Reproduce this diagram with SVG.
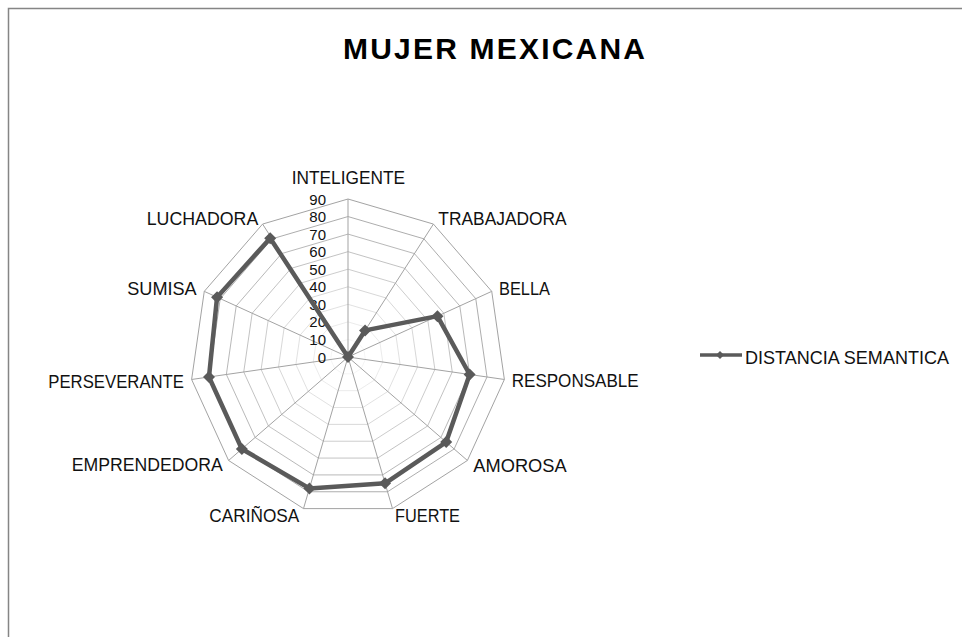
<svg xmlns="http://www.w3.org/2000/svg" xmlns:xlink="http://www.w3.org/1999/xlink" width="962" height="637" viewBox="0 0 962 637">
<style>
.grid{fill:none;stroke:#a3a3a3;stroke-width:1;vector-effect:non-scaling-stroke}
.spoke{stroke:#a3a3a3;stroke-width:1}
.lbl{font-family:"Liberation Sans",Arial,sans-serif;font-size:18px;fill:#111}
.num{font-family:"Liberation Sans",Arial,sans-serif;font-size:15px;fill:#111;text-anchor:end}
.title{font-family:"Liberation Sans",Arial,sans-serif;font-size:30px;font-weight:bold;fill:#000}
.series{fill:none;stroke:#5a5a5a;stroke-width:4.5;stroke-linejoin:round}
.mk{fill:#5a5a5a}
</style>
<defs>
<polygon id="ring" points="0,-158 85.41,-132.93 143.72,-65.63 156.39,22.48 119.40,103.47 44.51,151.60 -44.51,151.60 -119.40,103.47 -156.39,22.48 -143.72,-65.63 -85.41,-132.93"/>
<path id="dia" d="M0,-6 L6,0 L0,6 L-6,0 Z"/>
<path id="dias" d="M0,-4 L4,0 L0,4 L-4,0 Z"/>
</defs>
<rect x="8.5" y="8.5" width="970" height="650" fill="#fff" stroke="#858585" stroke-width="1.5"/>
<text class="title" x="343" y="58.5" textLength="302" lengthAdjust="spacing">MUJER MEXICANA</text>
<g id="grid" transform="translate(348 357)">
<use xlink:href="#ring" class="grid" transform="scale(0.1111)"/>
<use xlink:href="#ring" class="grid" transform="scale(0.2222)"/>
<use xlink:href="#ring" class="grid" transform="scale(0.3333)"/>
<use xlink:href="#ring" class="grid" transform="scale(0.4444)"/>
<use xlink:href="#ring" class="grid" transform="scale(0.5556)"/>
<use xlink:href="#ring" class="grid" transform="scale(0.6667)"/>
<use xlink:href="#ring" class="grid" transform="scale(0.7778)"/>
<use xlink:href="#ring" class="grid" transform="scale(0.8889)"/>
<use xlink:href="#ring" class="grid"/>
<g class="spoke">
<line x1="0" y1="0" x2="0" y2="-158"/>
<line x1="0" y1="0" x2="85.41" y2="-132.93"/>
<line x1="0" y1="0" x2="143.72" y2="-65.63"/>
<line x1="0" y1="0" x2="156.39" y2="22.48"/>
<line x1="0" y1="0" x2="119.40" y2="103.47"/>
<line x1="0" y1="0" x2="44.51" y2="151.60"/>
<line x1="0" y1="0" x2="-44.51" y2="151.60"/>
<line x1="0" y1="0" x2="-119.40" y2="103.47"/>
<line x1="0" y1="0" x2="-156.39" y2="22.48"/>
<line x1="0" y1="0" x2="-143.72" y2="-65.63"/>
<line x1="0" y1="0" x2="-85.41" y2="-132.93"/>
</g>
</g>
<g id="axis-values">
<text class="num" x="326" y="362.5">0</text>
<text class="num" x="326" y="344.9">10</text>
<text class="num" x="326" y="327.4">20</text>
<text class="num" x="326" y="309.8">30</text>
<text class="num" x="326" y="292.3">40</text>
<text class="num" x="326" y="274.7">50</text>
<text class="num" x="326" y="257.2">60</text>
<text class="num" x="326" y="239.6">70</text>
<text class="num" x="326" y="222.1">80</text>
<text class="num" x="326" y="204.5">90</text>
</g>
<g id="series" transform="translate(348 357)">
<polygon class="series" points="0,0 17.08,-26.59 89.42,-40.84 121.64,17.49 98.17,85.08 37.09,126.34 -38.57,131.39 -106.13,91.98 -139.01,19.98 -130.95,-59.80 -77.8,-118.8"/>
<g class="mk">
<use xlink:href="#dia" x="0" y="0"/>
<use xlink:href="#dia" x="17.08" y="-26.59"/>
<use xlink:href="#dia" x="89.42" y="-40.84"/>
<use xlink:href="#dia" x="121.64" y="17.49"/>
<use xlink:href="#dia" x="98.17" y="85.08"/>
<use xlink:href="#dia" x="37.09" y="126.34"/>
<use xlink:href="#dia" x="-38.57" y="131.39"/>
<use xlink:href="#dia" x="-106.13" y="91.98"/>
<use xlink:href="#dia" x="-139.01" y="19.98"/>
<use xlink:href="#dia" x="-130.95" y="-59.80"/>
<use xlink:href="#dia" x="-77.8" y="-118.8"/>
</g>
</g>
<g id="category-labels">
<text class="lbl" x="291.7" y="183.5" textLength="113.3" lengthAdjust="spacingAndGlyphs">INTELIGENTE</text>
<text class="lbl" x="438.3" y="224.5" textLength="128.4" lengthAdjust="spacingAndGlyphs">TRABAJADORA</text>
<text class="lbl" x="499" y="295.3" textLength="51" lengthAdjust="spacingAndGlyphs">BELLA</text>
<text class="lbl" x="511.7" y="387" textLength="127" lengthAdjust="spacingAndGlyphs">RESPONSABLE</text>
<text class="lbl" x="473.3" y="472" textLength="93.4" lengthAdjust="spacingAndGlyphs">AMOROSA</text>
<text class="lbl" x="395" y="522" textLength="65" lengthAdjust="spacingAndGlyphs">FUERTE</text>
<text class="lbl" x="209.3" y="522" textLength="90" lengthAdjust="spacingAndGlyphs">CARIÑOSA</text>
<text class="lbl" x="71.7" y="471" textLength="151" lengthAdjust="spacingAndGlyphs">EMPRENDEDORA</text>
<text class="lbl" x="48.3" y="387.5" textLength="135.7" lengthAdjust="spacingAndGlyphs">PERSEVERANTE</text>
<text class="lbl" x="127.3" y="295.3" textLength="69.4" lengthAdjust="spacingAndGlyphs">SUMISA</text>
<text class="lbl" x="146.7" y="224.5" textLength="111.6" lengthAdjust="spacingAndGlyphs">LUCHADORA</text>
</g>
<g id="legend">
<line x1="700" y1="355" x2="742" y2="355" stroke="#5a5a5a" stroke-width="3.5"/>
<use xlink:href="#dias" x="720" y="355" class="mk"/>
<text class="lbl" x="745" y="363.5" textLength="204" lengthAdjust="spacingAndGlyphs">DISTANCIA SEMANTICA</text>
</g>
</svg>
